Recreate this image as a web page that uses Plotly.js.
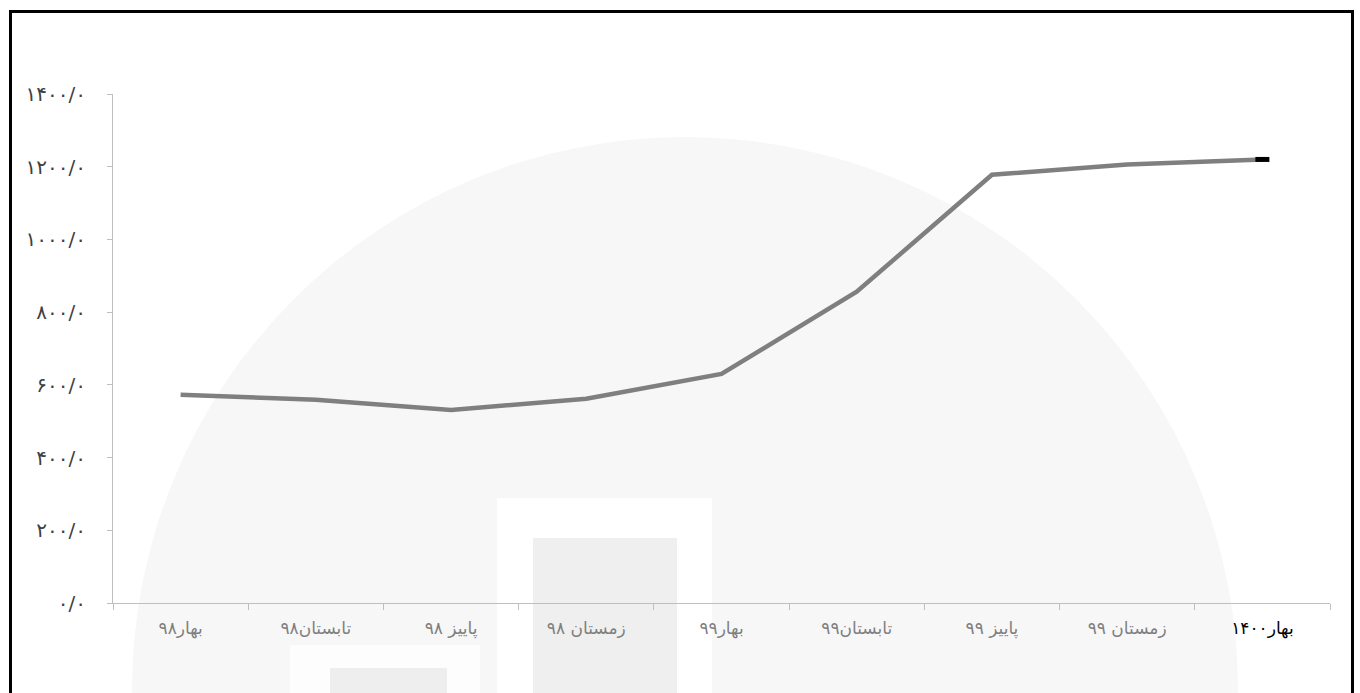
<!DOCTYPE html>
<html>
<head>
<meta charset="utf-8">
<script src="https://cdn.plot.ly/plotly-3.0.1.min.js"></script>
<style>
  html, body { margin: 0; padding: 0; background: #fff; }
  #chart { width: 1360px; height: 693px; }
</style>
</head>
<body>
<div id="chart"></div>
<script>
// ---- data ----
const categories = ["بهار۹۸", "تابستان۹۸", "پاییز ۹۸", "زمستان ۹۸", "بهار۹۹", "تابستان۹۹", "پاییز ۹۹", "زمستان ۹۹", "بهار۱۴۰۰"];
const values = [573, 559, 531, 562, 630, 856, 1178, 1206, 1220];
const yTickValues = [0, 200, 400, 600, 800, 1000, 1200, 1400];
const yTickLabels = ["۰/۰", "۲۰۰/۰", "۴۰۰/۰", "۶۰۰/۰", "۸۰۰/۰", "۱۰۰۰/۰", "۱۲۰۰/۰", "۱۴۰۰/۰"];

// ---- layout geometry (pixels) ----
const W = 1360, H = 693;
const M = { l: 113, r: 30, t: 94, b: 90 };
const PW = W - M.l - M.r, PH = H - M.t - M.b;
const px = x => (x - M.l) / PW;
const py = y => (H - M.b - y) / PH;

const xLabels = categories.map((c, i) =>
  i === categories.length - 1 ? '<span style="color:#000000">' + c + '</span>' : c);

const font = "DejaVu Sans, Liberation Serif, sans-serif";

const traces = [
  {
    x: categories,
    y: values,
    type: "scatter",
    mode: "lines",
    line: { color: "#7f7f7f", width: 4.5 },
    hoverinfo: "skip",
    showlegend: false
  },
  {
    x: [categories[categories.length - 1]],
    y: [values[values.length - 1]],
    type: "scatter",
    mode: "markers",
    marker: { symbol: "line-ew-open", size: 10, color: "#000", line: { color: "#000", width: 5 } },
    hoverinfo: "skip",
    showlegend: false
  }
];

const shapes = [
  // faint watermark
  { type: "circle", xref: "paper", yref: "paper", layer: "below",
    x0: px(132), x1: px(1238), y0: py(1243), y1: py(137),
    fillcolor: "#f7f7f7", line: { width: 0 } },
  { type: "rect", xref: "paper", yref: "paper", layer: "below",
    x0: px(497), x1: px(712), y0: py(700), y1: py(498),
    fillcolor: "#ffffff", line: { width: 0 } },
  { type: "rect", xref: "paper", yref: "paper", layer: "below",
    x0: px(533), x1: px(677), y0: py(700), y1: py(538),
    fillcolor: "#efefef", line: { width: 0 } },
  { type: "rect", xref: "paper", yref: "paper", layer: "below",
    x0: px(290), x1: px(480), y0: py(700), y1: py(645),
    fillcolor: "#fdfdfd", line: { width: 0 } },
  { type: "rect", xref: "paper", yref: "paper", layer: "below",
    x0: px(330), x1: px(447), y0: py(700), y1: py(668),
    fillcolor: "#eeeeee", line: { width: 0 } },
  // frame
  { type: "rect", xref: "paper", yref: "paper", layer: "above",
    x0: px(10.5), x1: px(1352.5), y0: py(760), y1: py(11.5),
    fillcolor: "rgba(0,0,0,0)", line: { color: "#000", width: 3 } }
];

const layout = {
  width: W, height: H,
  margin: M,
  paper_bgcolor: "#ffffff",
  plot_bgcolor: "rgba(0,0,0,0)",
  font: { family: font, color: "#595959", size: 14 },
  showlegend: false,
  xaxis: {
    type: "category",
    range: [-0.5, categories.length - 0.5],
    tickmode: "array",
    tickvals: categories,
    ticktext: xLabels,
    tickson: "boundaries",
    ticks: "outside",
    ticklen: 6,
    tickcolor: "#bfbfbf",
    showline: true,
    linecolor: "#bfbfbf",
    linewidth: 1,
    showgrid: false,
    zeroline: false,
    ticklabelstandoff: 10,
    tickfont: { family: font, size: 17, color: "#7f7f7f" },
    fixedrange: true
  },
  yaxis: {
    range: [0, 1400],
    tickmode: "array",
    tickvals: yTickValues,
    ticktext: yTickLabels,
    ticks: "outside",
    ticklen: 5,
    tickcolor: "#bfbfbf",
    showline: true,
    linecolor: "#bfbfbf",
    linewidth: 1,
    showgrid: false,
    zeroline: false,
    ticklabelstandoff: 17,
    tickfont: { family: font, size: 20, color: "#404040" },
    fixedrange: true
  },
  shapes: shapes
};

Plotly.newPlot("chart", traces, layout, { displayModeBar: false, staticPlot: true });
</script>
</body>
</html>
